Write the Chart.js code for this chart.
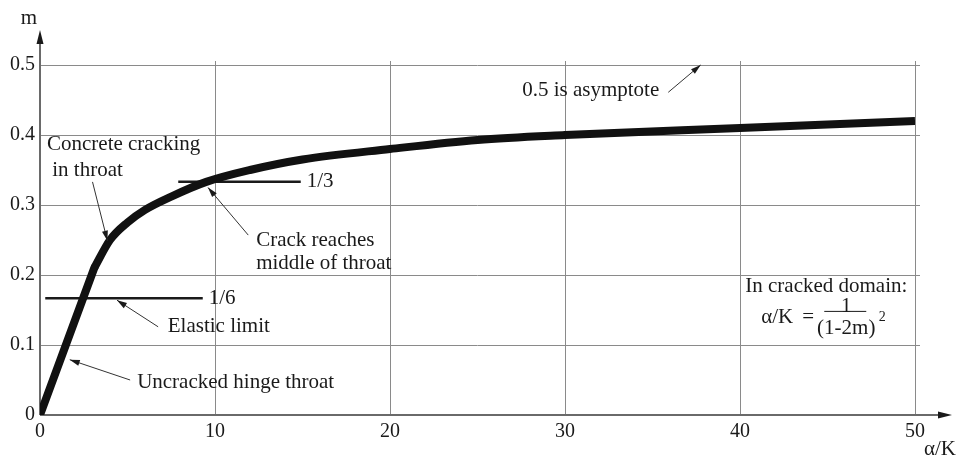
<!DOCTYPE html>
<html>
<head>
<meta charset="utf-8">
<script src="https://cdn.jsdelivr.net/npm/chart.js@4.4.1/dist/chart.umd.min.js"></script>
<style>
  html, body { margin: 0; padding: 0; background: #fff; }
  #wrap { width: 961px; height: 459px; }
</style>
</head>
<body>
<div id="wrap"><canvas id="myChart" width="961" height="459"></canvas></div>
<script>
// chart data
var alphaK = [0, 3.1, 4, 5, 6, 7.5, 9.5, 12, 15, 20, 25, 30, 40, 50];
var mVals = [0, 0.21, 0.25, 0.275, 0.293, 0.312, 0.333, 0.35, 0.365, 0.38, 0.393, 0.40, 0.41, 0.42];
var xTicks = [0, 10, 20, 30, 40, 50];
var yTicks = [0, 0.1, 0.2, 0.3, 0.4, 0.5];
var yTickLabels = ['0', '0.1', '0.2', '0.3', '0.4', '0.5'];
var levels = [1/6, 1/3];
var levelFrom = [0.3, 7.9];
var levelTo = [9.3, 14.9];
var levelLabels = ['1/6', '1/3'];

var FONT = "'Liberation Serif', 'DejaVu Serif', serif";
var INK = '#1a1a1a';

// annotation texts and pointer arrows, in data units
var notes = [
  {t: 'Concrete cracking', x: 0.4, y: 0.386},
  {t: 'in throat', x: 0.7, y: 0.35},
  {t: 'Crack reaches', x: 12.35, y: 0.25},
  {t: 'middle of throat', x: 12.35, y: 0.216},
  {t: 'Elastic limit', x: 7.3, y: 0.126},
  {t: 'Uncracked hinge throat', x: 5.55, y: 0.047},
  {t: '0.5 is asymptote', x: 27.55, y: 0.463},
  {t: 'In cracked domain:', x: 40.3, y: 0.183}
];
var pointers = [
  {from: [3.0, 0.333], to: [3.85, 0.249]},
  {from: [11.9, 0.257], to: [9.6, 0.325]},
  {from: [6.75, 0.126], to: [4.4, 0.164]},
  {from: [5.15, 0.05], to: [1.7, 0.079]},
  {from: [35.9, 0.461], to: [37.75, 0.5]}
];

function arrowHead(ctx, x1, y1, x2, y2, len, half) {
  var a = Math.atan2(y2 - y1, x2 - x1);
  ctx.beginPath();
  ctx.moveTo(x2, y2);
  ctx.lineTo(x2 - len * Math.cos(a) + half * Math.sin(a), y2 - len * Math.sin(a) - half * Math.cos(a));
  ctx.lineTo(x2 - len * Math.cos(a) - half * Math.sin(a), y2 - len * Math.sin(a) + half * Math.cos(a));
  ctx.closePath();
  ctx.fill();
}

var decorations = {
  id: 'decorations',
  beforeDatasetsDraw: function(chart) {
    var ctx = chart.ctx, xs = chart.scales.x, ys = chart.scales.y, ca = chart.chartArea;
    ctx.save();
    ctx.strokeStyle = '#8a8a8a';
    ctx.lineWidth = 1;
    // grid overshoot, as in the drawing
    xTicks.forEach(function(v) {
      if (v === 0) return;
      var px = Math.round(xs.getPixelForValue(v)) + 0.5;
      ctx.beginPath(); ctx.moveTo(px, ca.top - 4); ctx.lineTo(px, ca.top); ctx.stroke();
    });
    yTicks.forEach(function(v) {
      if (v === 0) return;
      var py = Math.round(ys.getPixelForValue(v)) + 0.5;
      ctx.beginPath(); ctx.moveTo(ca.right, py); ctx.lineTo(ca.right + 5, py); ctx.stroke();
    });
    // axes with arrows
    ctx.strokeStyle = '#6a6a6a';
    ctx.fillStyle = INK;
    ctx.lineWidth = 2;
    ctx.beginPath(); ctx.moveTo(ca.left, ca.bottom); ctx.lineTo(ca.right + 30, ca.bottom); ctx.stroke();
    arrowHead(ctx, ca.left, ca.bottom, ca.right + 37, ca.bottom, 14, 3.5);
    ctx.beginPath(); ctx.moveTo(ca.left, ca.bottom); ctx.lineTo(ca.left, ca.top - 28); ctx.stroke();
    arrowHead(ctx, ca.left, ca.bottom, ca.left, ca.top - 35, 14, 3.5);
    ctx.restore();
  },
  afterDatasetsDraw: function(chart) {
    var ctx = chart.ctx, xs = chart.scales.x, ys = chart.scales.y, ca = chart.chartArea;
    function px(v) { return xs.getPixelForValue(v); }
    function py(v) { return ys.getPixelForValue(v); }
    ctx.save();
    ctx.fillStyle = INK;
    ctx.font = '21px ' + FONT;
    ctx.textBaseline = 'middle';
    ctx.textAlign = 'left';
    notes.forEach(function(n) { ctx.fillText(n.t, px(n.x), py(n.y)); });
    levels.forEach(function(l, i) { ctx.fillText(levelLabels[i], px(levelTo[i]) + 6, py(l)); });

    // axis titles
    ctx.textAlign = 'center';
    ctx.fillText('m', 29, 18);
    ctx.fillText('\u03b1/K', ca.right + 25, ca.bottom + 34);

    // formula  alpha/K = 1/(1-2m)^2
    var fx = px(40.3) + 16, fy = py(0.183) + 31;
    ctx.textAlign = 'left';
    ctx.fillText('\u03b1/K', fx, fy);
    ctx.fillText('=', fx + 41, fy);
    var bx0 = fx + 63, bx1 = fx + 105;
    ctx.textAlign = 'center';
    ctx.fillText('1', (bx0 + bx1) / 2 + 1, fy - 11);
    ctx.fillText('(1-2m)', (bx0 + bx1) / 2 + 1, fy + 11);
    ctx.font = '14px ' + FONT;
    ctx.fillText('2', bx1 + 16, fy - 1);
    ctx.strokeStyle = INK;
    ctx.lineWidth = 1;
    ctx.beginPath(); ctx.moveTo(bx0, fy - 6.5); ctx.lineTo(bx1, fy - 6.5); ctx.stroke();

    // pointer arrows
    ctx.strokeStyle = '#333';
    ctx.lineWidth = 1;
    pointers.forEach(function(p) {
      var x1 = px(p.from[0]), y1 = py(p.from[1]), x2 = px(p.to[0]), y2 = py(p.to[1]);
      ctx.beginPath(); ctx.moveTo(x1, y1); ctx.lineTo(x2, y2); ctx.stroke();
      arrowHead(ctx, x1, y1, x2, y2, 10, 3);
    });
    ctx.restore();
  }
};

var curve = alphaK.map(function(v, i) { return {x: v, y: mVals[i]}; });
var levelSets = levels.map(function(l, i) {
  return {
    data: [{x: levelFrom[i], y: l}, {x: levelTo[i], y: l}],
    showLine: true,
    borderColor: INK,
    borderWidth: 2.5,
    pointRadius: 0,
    tension: 0
  };
});

var ctx = document.getElementById('myChart').getContext('2d');
var myChart = new Chart(ctx, {
  type: 'scatter',
  data: {
    datasets: [{
      // uncracked, straight part
      data: curve.slice(0, 2),
      showLine: true,
      borderColor: '#111',
      borderWidth: 8,
      borderCapStyle: 'round',
      pointRadius: 0,
      tension: 0
    }, {
      // cracked domain
      data: curve.slice(1),
      showLine: true,
      borderColor: '#111',
      borderWidth: 8,
      borderJoinStyle: 'round',
      pointRadius: 0,
      cubicInterpolationMode: 'monotone'
    }].concat(levelSets)
  },
  options: {
    responsive: false,
    animation: false,
    devicePixelRatio: 1,
    layout: {
      padding: {left: 0, right: 46, top: 65, bottom: 0}
    },
    plugins: {
      legend: {display: false},
      tooltip: {enabled: false}
    },
    scales: {
      x: {
        type: 'linear',
        min: 0,
        max: 50,
        afterBuildTicks: function(scale) { scale.ticks = xTicks.map(function(v) { return {value: v}; }); },
        afterFit: function(scale) { scale.height = 44; },
        ticks: {
          font: {family: FONT, size: 20},
          color: INK,
          padding: 5,
          maxRotation: 0
        },
        grid: {color: '#8a8a8a', lineWidth: 1, drawTicks: false},
        border: {display: false}
      },
      y: {
        type: 'linear',
        min: 0,
        max: 0.5,
        afterBuildTicks: function(scale) { scale.ticks = yTicks.map(function(v) { return {value: v}; }); },
        afterFit: function(scale) { scale.width = 40; },
        ticks: {
          font: {family: FONT, size: 20},
          color: INK,
          padding: 5,
          callback: function(v, i) { return yTickLabels[i]; }
        },
        grid: {color: '#8a8a8a', lineWidth: 1, drawTicks: false},
        border: {display: false}
      }
    }
  },
  plugins: [decorations]
});
</script>
</body>
</html>
